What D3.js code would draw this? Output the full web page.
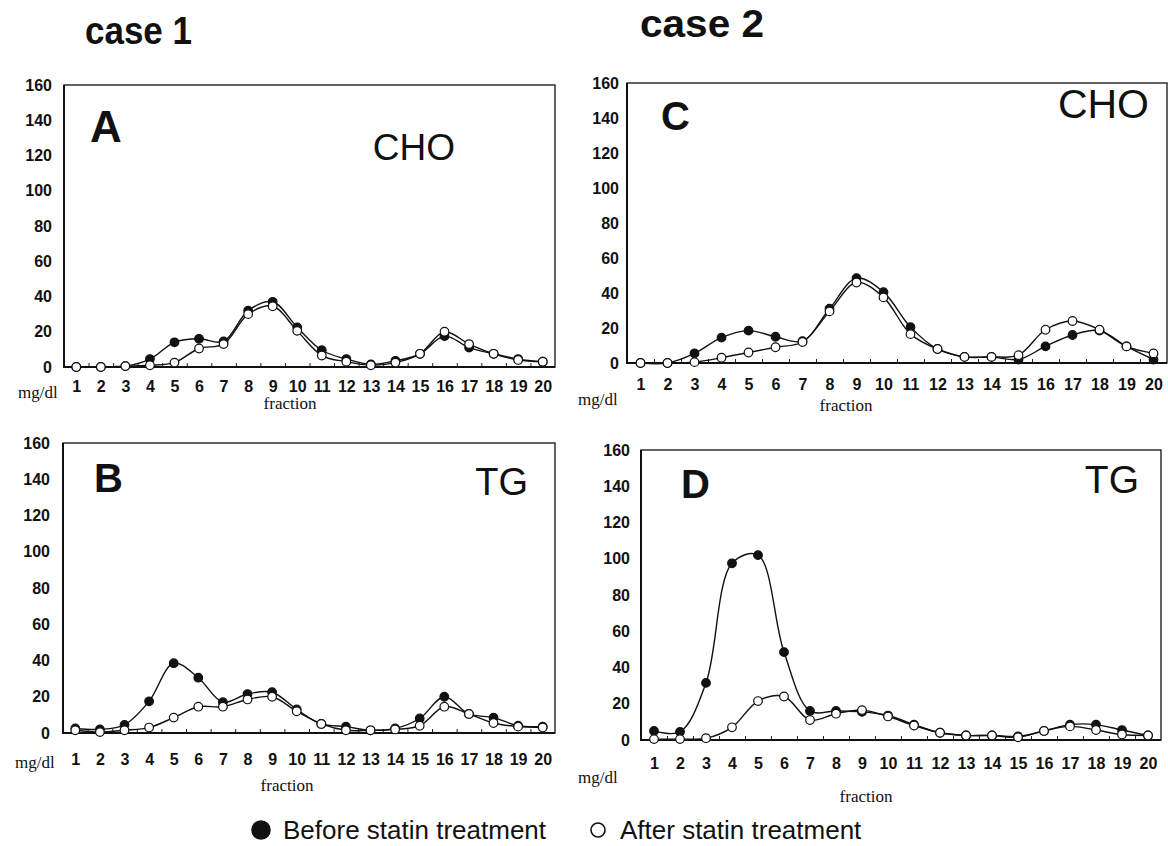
<html>
<head>
<meta charset="utf-8">
<style>
  body { margin: 0; background: #fff; }
  svg text { fill: #111; }
  .num { font-family: "Liberation Sans", Arial, sans-serif; font-weight: bold; font-size: 16px; }
  .serif { font-family: "Liberation Serif", "Times New Roman", serif; font-size: 17px; }
</style>
</head>
<body>
<svg id="chart" width="1168" height="846"></svg>
<script src="https://cdn.jsdelivr.net/npm/d3@7"></script>
<script>
  const fractions = [1, 2, 3, 4, 5, 6, 7, 8, 9, 10, 11, 12, 13, 14, 15, 16, 17, 18, 19, 20]
  const yTicks = [0, 20, 40, 60, 80, 100, 120, 140, 160]

  // case 1, CHO
  const aBefore = [0, 0, 0.5, 4.5, 14, 16, 14.5, 32, 37, 22.5, 9.5, 4.5, 1.5, 3.5, 7.5, 17.5, 11, 7.5, 4.5, 3]
  const aAfter = [0, 0, 0.5, 1, 2.5, 10.5, 13, 30, 34.5, 20.5, 6.5, 3, 1, 2.5, 7.5, 20, 13, 7.5, 4, 3]
  // case 1, TG
  const bBefore = [2.5, 2, 4.5, 17.5, 38.5, 30.5, 17, 21.5, 22.5, 13, 5, 3.5, 1.5, 2.5, 8, 20, 10.5, 8.5, 4, 3.5]
  const bAfter = [1.5, 0.5, 1.5, 3, 8.5, 14.5, 14.5, 18.5, 20, 12, 5, 1.5, 1.5, 2, 4, 14.5, 10.5, 5.5, 3.5, 3]
  // case 2, CHO
  const cBefore = [0, 0, 5.5, 14.5, 18.5, 15, 12.5, 31, 48.5, 40.5, 20.5, 8, 3.5, 3.5, 2, 9.5, 16, 18.5, 9.5, 2]
  const cAfter = [0, 0, 0.5, 3, 6, 9, 12, 29.5, 46, 37.5, 16.5, 8, 3.5, 3.5, 4.5, 19, 24, 19, 9.5, 5.5]
  // case 2, TG
  const dBefore = [5, 4.5, 31.5, 97.5, 102, 48.5, 16, 16, 15.5, 13.5, 8.5, 4, 2.5, 2.5, 2, 5, 8.5, 8.5, 5.5, 2.5]
  const dAfter = [0.5, 0.5, 1, 7, 21.5, 24, 11, 14.5, 16.5, 13, 8, 4, 2.5, 2.5, 1.5, 5, 7.5, 5.5, 3, 2.5]

  const seriesNames = ['Before statin treatment', 'After statin treatment']

  const panels = [
    { letter: 'A', label: 'CHO', before: aBefore, after: aAfter,
      box: [64, 85, 555, 367], yLab: 12, numY: 19, mg: [18, 25], frac: [290, 36],
      letterPos: [90, 142, 44], labelPos: [455, 160, 37] },
    { letter: 'B', label: 'TG', before: bBefore, after: bAfter,
      box: [63, 443, 555, 733], yLab: 13, numY: 26, mg: [15, 29], frac: [287, 52],
      letterPos: [94, 492, 40], labelPos: [528, 495, 38] },
    { letter: 'C', label: 'CHO', before: cBefore, after: cAfter,
      box: [627, 83, 1167, 363], yLab: 8, numY: 21, mg: [578, 36], frac: [846, 42],
      letterPos: [661, 130, 40], labelPos: [1149, 118, 41] },
    { letter: 'D', label: 'TG', before: dBefore, after: dAfter,
      box: [641, 450, 1161, 740], yLab: 11, numY: 23, mg: [578, 37], frac: [866, 56],
      letterPos: [681, 498, 40], labelPos: [1139, 493, 39] }
  ]

  const svg = d3.select('#chart')

  function drawPanel (p) {
    const [x0, y0, x1, y1] = p.box
    const x = d3.scaleLinear().domain([0.5, 20.5]).range([x0, x1])
    const y = d3.scaleLinear().domain([0, 160]).range([y1, y0])
    const g = svg.append('g')

    // boundary ticks pointing inward
    g.append('g')
      .attr('transform', `translate(0,${y1})`)
      .call(d3.axisBottom(x).tickValues(fractions.slice(0, -1).map(f => f + 0.5)).tickSize(-4).tickFormat(''))
      .call(s => s.select('.domain').remove())
      .selectAll('line').attr('stroke', '#222').attr('stroke-width', 1)

    // fraction labels
    const xa = g.append('g')
      .attr('transform', `translate(0,${y1})`)
      .call(d3.axisBottom(x).tickValues(fractions).tickSize(0))
    xa.select('.domain').remove()
    xa.selectAll('text').attr('class', 'num').attr('y', p.numY).attr('dy', '0.35em').attr('fill', '#111')

    // y labels
    const ya = g.append('g')
      .attr('transform', `translate(${x0 - p.yLab},0)`)
      .call(d3.axisLeft(y).tickValues(yTicks).tickSize(0).tickPadding(0))
    ya.select('.domain').remove()
    ya.selectAll('text').attr('class', 'num').attr('fill', '#111')

    // frame
    g.append('rect')
      .attr('x', x0).attr('y', y0).attr('width', x1 - x0).attr('height', y1 - y0)
      .attr('fill', 'none').attr('stroke', '#111').attr('stroke-width', 1.3)
    g.append('path')
      .attr('d', `M${x0},${y0}V${y1}H${x1}`)
      .attr('fill', 'none').attr('stroke', '#111').attr('stroke-width', 2)

    const line = d3.line()
      .x((d, i) => x(fractions[i]))
      .y(d => y(d))
      .curve(d3.curveCatmullRom.alpha(0.5))

    const series = [
      { values: p.before, fill: '#111' },
      { values: p.after, fill: '#fff' }
    ]
    series.forEach(s => {
      g.append('path')
        .attr('d', line(s.values))
        .attr('fill', 'none').attr('stroke', '#111').attr('stroke-width', 1.4)
    })
    series.forEach(s => {
      g.selectAll(null).data(s.values).enter()
        .append('circle')
        .attr('cx', (d, i) => x(fractions[i]))
        .attr('cy', d => y(d))
        .attr('r', 4.3)
        .attr('fill', s.fill)
        .attr('stroke', '#111').attr('stroke-width', 1.2)
    })

    // texts
    g.append('text')
      .attr('x', p.letterPos[0]).attr('y', p.letterPos[1])
      .style('font-family', '"Liberation Sans", Arial, sans-serif').style('font-weight', 'bold')
      .style('font-size', p.letterPos[2] + 'px')
      .text(p.letter)
    g.append('text')
      .attr('x', p.labelPos[0]).attr('y', p.labelPos[1]).attr('text-anchor', 'end')
      .style('font-family', '"Liberation Sans", Arial, sans-serif')
      .style('font-size', p.labelPos[2] + 'px')
      .text(p.label)
    g.append('text')
      .attr('class', 'serif')
      .attr('x', p.mg[0]).attr('y', y1 + p.mg[1]).attr('dy', '0.35em')
      .text('mg/dl')
    g.append('text')
      .attr('class', 'serif')
      .attr('x', p.frac[0]).attr('y', y1 + p.frac[1]).attr('dy', '0.35em').attr('text-anchor', 'middle')
      .text('fraction')
  }

  panels.forEach(drawPanel)

  // case titles, condensed bold
  const titles = [
    { text: 'case 1', x: 85, y: 44, w: 107 },
    { text: 'case 2', x: 640, y: 37, w: 124 }
  ]
  titles.forEach(t => {
    svg.append('text').attr('x', t.x).attr('y', t.y)
      .attr('textLength', t.w).attr('lengthAdjust', 'spacingAndGlyphs')
      .style('font-family', '"Liberation Sans", Arial, sans-serif')
      .style('font-weight', 'bold').style('font-size', '38px')
      .text(t.text)
  })

  // legend
  const legend = svg.append('g').attr('transform', 'translate(0,830)')
  const legendItems = [
    { name: seriesNames[0], fill: '#111', cx: 261, tx: 283 },
    { name: seriesNames[1], fill: '#fff', cx: 598, tx: 620 }
  ]
  legendItems.forEach(it => {
    legend.append('circle').attr('cx', it.cx).attr('cy', 0).attr('r', it.fill === '#fff' ? 7 : 9)
      .attr('fill', it.fill).attr('stroke', '#111').attr('stroke-width', 1.6)
    legend.append('text').attr('x', it.tx).attr('y', 0).attr('dy', '0.35em')
      .style('font-family', '"Liberation Sans", Arial, sans-serif').style('font-size', '26px')
      .text(it.name)
  })
</script>
</body>
</html>
